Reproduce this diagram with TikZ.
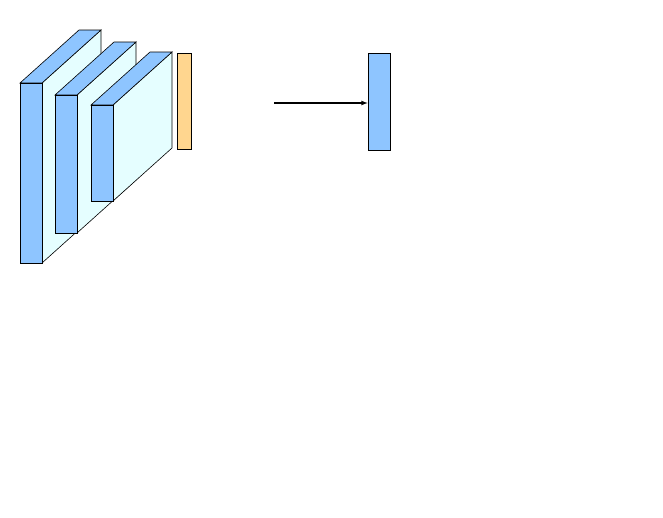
\documentclass[tikz,border=0pt]{standalone}
\begin{document}
\begin{tikzpicture}[x=1pt,y=-1pt,
  fr/.style={draw=black,fill=blue!5!cyan!10!white, line width=0.6pt},
  bl/.style={draw=black,fill={rgb,255:red,142;green,197;blue,255},line width=0.6pt}]
\useasboundingbox (0,0) rectangle (663,517);
\foreach \x/\y/\h in {20/83/180, 55/95/138, 91/105/96}{
  \path[fr] (\x+22,\y) -- (\x+81,\y-53) -- (\x+81,\y-53+\h) -- (\x+22,\y+\h) -- cycle;
  \path[bl] (\x,\y) -- (\x+59,\y-53) -- (\x+81,\y-53) -- (\x+22,\y) -- cycle;
  \path[bl] (\x,\y) rectangle (\x+22,\y+\h);
}
\node[draw=black,fill={rgb,255:red,255;green,214;blue,143},minimum width=14pt,minimum height=96pt,inner sep=0pt,line width=0.6pt] (o) at (184,101) {};
\node[draw=black,fill={rgb,255:red,142;green,197;blue,255},minimum width=22pt,minimum height=97pt,inner sep=0pt,line width=0.6pt] (b) at (379,101.5) {};
\coordinate (s) at (274,103);
\draw[-latex,line width=1.2pt] (s) -- (b.west |- s);
\end{tikzpicture}
\end{document}
